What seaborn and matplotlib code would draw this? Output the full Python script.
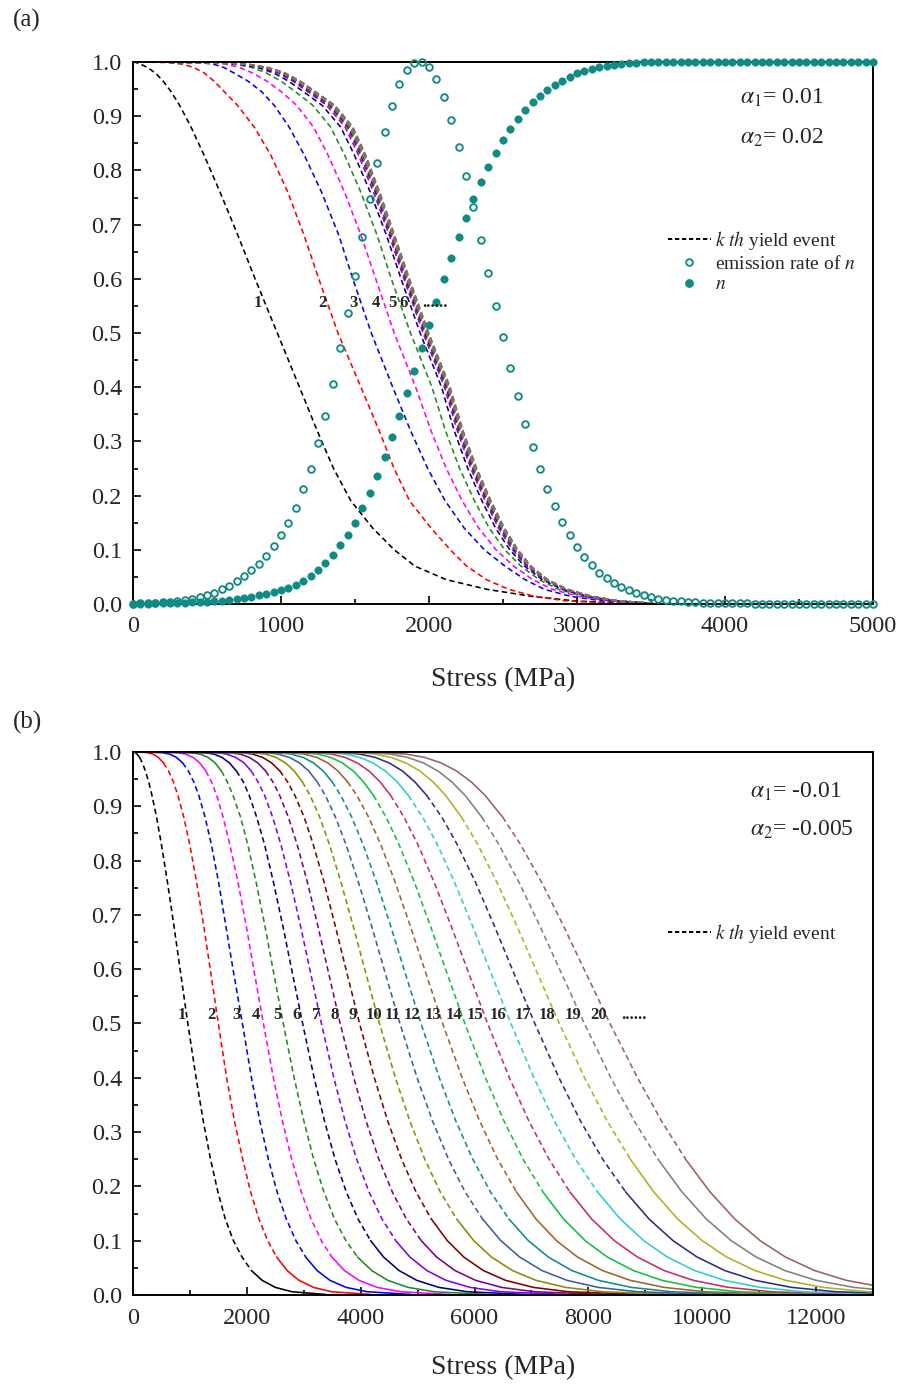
import numpy as np
import matplotlib
matplotlib.use("Agg")
import matplotlib.pyplot as plt
from matplotlib.lines import Line2D
from matplotlib.ticker import MultipleLocator, FormatStrFormatter
import seaborn as sns

sns.set_theme(style="white")
plt.rcParams["font.family"] = ["Liberation Serif", "DejaVu Serif"]
plt.rcParams["mathtext.fontset"] = "stix"

# Survival levels at which each yield-event curve is tabulated (stress in MPa)
LEVELS = [1.0, 0.999, 0.996, 0.99, 0.98, 0.965, 0.945, 0.92, 0.88, 0.83, 0.76, 0.68, 0.6,
          0.5, 0.4, 0.32, 0.25, 0.19, 0.14, 0.1, 0.07, 0.045, 0.027, 0.014, 0.006, 0.001]

# ---- panel (a): alpha1 = 0.01, alpha2 = 0.02 ----
a_k01 = [0, 21, 52, 96, 150, 203, 258, 315, 392, 477, 588, 709, 825, 975, 1125, 1244, 1355, 1473, 1620, 1765, 1904, 2116, 2393, 2697, 2975, 3294]
a_k02 = [0, 243, 333, 409, 480, 546, 618, 706, 819, 928, 1046, 1156, 1255, 1385, 1540, 1663, 1764, 1869, 2014, 2144, 2254, 2388, 2539, 2714, 2916, 3276]
a_k03 = [0, 447, 543, 613, 680, 775, 870, 954, 1055, 1154, 1274, 1391, 1485, 1610, 1755, 1875, 1991, 2110, 2238, 2374, 2513, 2649, 2780, 2959, 3163, 3490]
a_k04 = [0, 508, 628, 720, 805, 903, 1003, 1106, 1219, 1315, 1429, 1541, 1640, 1765, 1910, 2013, 2117, 2225, 2336, 2453, 2572, 2701, 2835, 3010, 3204, 3501]
a_k05 = [0, 548, 689, 800, 900, 998, 1099, 1215, 1335, 1427, 1539, 1650, 1745, 1875, 2020, 2111, 2207, 2308, 2407, 2512, 2621, 2744, 2875, 3046, 3231, 3508]
a_k06 = [0, 571, 722, 842, 949, 1049, 1153, 1278, 1403, 1493, 1603, 1713, 1811, 1940, 2085, 2170, 2262, 2358, 2450, 2546, 2645, 2765, 2899, 3068, 3249, 3513]
a_k07 = [0, 585, 741, 866, 977, 1078, 1182, 1309, 1433, 1521, 1625, 1732, 1831, 1960, 2105, 2191, 2283, 2380, 2470, 2564, 2659, 2777, 2911, 3080, 3258, 3515]
a_k08 = [0, 591, 750, 879, 992, 1093, 1197, 1325, 1448, 1534, 1637, 1741, 1840, 1970, 2115, 2201, 2293, 2390, 2481, 2574, 2667, 2784, 2919, 3086, 3263, 3516]
a_k09 = [0, 595, 756, 886, 1000, 1101, 1206, 1334, 1457, 1543, 1644, 1747, 1846, 1976, 2121, 2207, 2300, 2397, 2488, 2580, 2671, 2787, 2922, 3089, 3265, 3517]
a_k10 = [0, 597, 760, 891, 1006, 1107, 1211, 1340, 1463, 1548, 1648, 1750, 1850, 1980, 2125, 2212, 2304, 2401, 2492, 2584, 2674, 2789, 2925, 3091, 3267, 3517]
a_k11 = [0, 600, 763, 895, 1010, 1111, 1216, 1345, 1468, 1552, 1651, 1753, 1853, 1983, 2128, 2215, 2307, 2404, 2495, 2586, 2676, 2791, 2927, 3093, 3269, 3518]
a_k12 = [0, 601, 765, 897, 1013, 1114, 1219, 1348, 1471, 1555, 1654, 1755, 1855, 1985, 2130, 2217, 2310, 2407, 2497, 2588, 2678, 2793, 2928, 3094, 3270, 3518]
a_k13 = [0, 603, 767, 899, 1015, 1116, 1221, 1351, 1474, 1558, 1656, 1757, 1857, 1987, 2132, 2218, 2311, 2408, 2498, 2589, 2679, 2794, 2929, 3095, 3270, 3518]
a_k14 = [0, 603, 768, 901, 1017, 1118, 1223, 1353, 1475, 1559, 1657, 1758, 1858, 1988, 2133, 2220, 2313, 2410, 2500, 2591, 2680, 2795, 2930, 3096, 3271, 3518]
a_k15 = [0, 603, 768, 902, 1019, 1121, 1225, 1354, 1477, 1561, 1658, 1759, 1859, 1989, 2134, 2221, 2314, 2411, 2501, 2592, 2680, 2795, 2930, 3096, 3271, 3518]
a_k16 = [0, 605, 770, 903, 1019, 1120, 1225, 1355, 1477, 1561, 1659, 1760, 1860, 1990, 2135, 2221, 2314, 2411, 2501, 2592, 2681, 2796, 2931, 3097, 3272, 3518]
a_k17 = [0, 605, 770, 904, 1021, 1123, 1228, 1358, 1480, 1564, 1661, 1762, 1862, 1992, 2137, 2224, 2317, 2414, 2504, 2595, 2683, 2797, 2932, 3098, 3272, 3519]
a_k18 = [0, 605, 771, 906, 1023, 1125, 1230, 1360, 1482, 1566, 1663, 1764, 1864, 1994, 2139, 2226, 2319, 2416, 2506, 2597, 2684, 2798, 2933, 3099, 3273, 3519]
a_k19 = [0, 606, 772, 906, 1024, 1127, 1232, 1362, 1484, 1568, 1665, 1766, 1866, 1996, 2141, 2228, 2321, 2418, 2508, 2599, 2687, 2800, 2934, 3100, 3274, 3519]
a_k20 = [0, 608, 774, 909, 1026, 1129, 1234, 1364, 1486, 1570, 1667, 1768, 1868, 1998, 2143, 2230, 2323, 2420, 2510, 2601, 2689, 2802, 2936, 3102, 3276, 3520]

# emission rate of n and n, sampled every 50 MPa from 0 to 5000
a_stress_grid = np.arange(0, 5001, 50)
a_emission = [
    0.000, 0.001, 0.001, 0.002, 0.003, 0.004, 0.006, 0.008, 0.010, 0.013,
    0.017, 0.021, 0.027, 0.034, 0.042, 0.052, 0.062, 0.074, 0.089, 0.107,
    0.127, 0.150, 0.178, 0.212, 0.250, 0.297, 0.347, 0.406, 0.472, 0.536,
    0.606, 0.678, 0.747, 0.813, 0.870, 0.919, 0.959, 0.985, 0.999, 1.000,
    0.991, 0.969, 0.936, 0.893, 0.844, 0.790, 0.732, 0.672, 0.610, 0.550,
    0.492, 0.435, 0.383, 0.333, 0.289, 0.249, 0.212, 0.181, 0.152, 0.127,
    0.106, 0.087, 0.072, 0.058, 0.048, 0.038, 0.031, 0.025, 0.020, 0.016,
    0.012, 0.010, 0.008, 0.006, 0.005, 0.004, 0.003, 0.002, 0.002, 0.001,
    0.001, 0.001, 0.001, 0.001, 0.000, 0.000, 0.000, 0.000, 0.000, 0.000,
    0.000, 0.000, 0.000, 0.000, 0.000, 0.000, 0.000, 0.000, 0.000, 0.000,
    0.000]
a_n = [
    0.000, 0.000, 0.000, 0.001, 0.001, 0.001, 0.002, 0.002, 0.003, 0.003,
    0.004, 0.005, 0.006, 0.007, 0.009, 0.011, 0.013, 0.016, 0.019, 0.022,
    0.026, 0.030, 0.035, 0.043, 0.052, 0.063, 0.075, 0.090, 0.108, 0.128,
    0.150, 0.177, 0.204, 0.236, 0.271, 0.308, 0.347, 0.389, 0.430, 0.473,
    0.515, 0.558, 0.600, 0.639, 0.677, 0.713, 0.747, 0.778, 0.806, 0.832,
    0.856, 0.876, 0.895, 0.911, 0.926, 0.938, 0.948, 0.957, 0.965, 0.973,
    0.979, 0.984, 0.988, 0.991, 0.993, 0.995, 0.997, 0.998, 0.999, 1.000,
    1.000, 1.000, 1.000, 1.000, 1.000, 1.000, 1.000, 1.000, 1.000, 1.000,
    1.000, 1.000, 1.000, 1.000, 1.000, 1.000, 1.000, 1.000, 1.000, 1.000,
    1.000, 1.000, 1.000, 1.000, 1.000, 1.000, 1.000, 1.000, 1.000, 1.000,
    1.000]

a_label_text = ["1", "2", "3", "4", "5", "6", "......"]
a_label_stress = [843, 1277, 1489, 1640, 1752, 1831, 2041]
a_label_level = 0.555

# ---- panel (b): alpha1 = -0.01, alpha2 = -0.005 ----
b_k01 = [0, 37, 73, 116, 164, 218, 275, 334, 414, 499, 606, 719, 827, 963, 1108, 1235, 1362, 1491, 1621, 1764, 1915, 2080, 2269, 2500, 2792, 3388]
b_k02 = [0, 247, 351, 446, 536, 624, 709, 790, 892, 996, 1118, 1242, 1357, 1499, 1645, 1783, 1928, 2065, 2213, 2367, 2522, 2708, 2916, 3171, 3492, 4177]
b_k03 = [0, 505, 646, 764, 871, 973, 1067, 1156, 1266, 1376, 1504, 1631, 1757, 1922, 2081, 2229, 2378, 2531, 2693, 2862, 3033, 3234, 3460, 3744, 4112, 4897]
b_k04 = [0, 765, 925, 1056, 1172, 1280, 1379, 1471, 1583, 1700, 1845, 1989, 2121, 2291, 2466, 2626, 2787, 2955, 3128, 3309, 3493, 3715, 3968, 4290, 4703, 5577]
b_k05 = [0, 1010, 1183, 1321, 1442, 1553, 1656, 1758, 1890, 2015, 2163, 2317, 2459, 2640, 2831, 3003, 3174, 3353, 3540, 3740, 3944, 4194, 4476, 4833, 5288, 6247]
b_k06 = [0, 1242, 1423, 1565, 1692, 1817, 1938, 2041, 2173, 2310, 2468, 2632, 2786, 2980, 3182, 3365, 3550, 3746, 3953, 4175, 4401, 4674, 4984, 5375, 5872, 6913]
b_k07 = [0, 1462, 1648, 1805, 1951, 2077, 2196, 2312, 2453, 2597, 2768, 2942, 3106, 3310, 3528, 3726, 3930, 4146, 4374, 4615, 4864, 5162, 5499, 5922, 6459, 7580]
b_k08 = [0, 1671, 1880, 2046, 2191, 2330, 2456, 2577, 2729, 2883, 3064, 3247, 3421, 3640, 3879, 4096, 4319, 4554, 4803, 5064, 5333, 5656, 6019, 6474, 7051, 8249]
b_k09 = [0, 1888, 2105, 2279, 2434, 2580, 2716, 2844, 3006, 3166, 3357, 3553, 3741, 3980, 4240, 4476, 4718, 4971, 5240, 5522, 5810, 6156, 6545, 7033, 7649, 8920]
b_k10 = [0, 2103, 2331, 2513, 2678, 2832, 2976, 3111, 3280, 3450, 3654, 3867, 4071, 4330, 4610, 4865, 5126, 5397, 5685, 5988, 6296, 6666, 7081, 7600, 8253, 9575]
b_k11 = [0, 2317, 2556, 2750, 2923, 3087, 3236, 3379, 3557, 3740, 3961, 4191, 4411, 4689, 4991, 5264, 5543, 5833, 6140, 6463, 6791, 7184, 7625, 8174, 8862, 10217]
b_k12 = [0, 2532, 2785, 2989, 3171, 3341, 3500, 3650, 3843, 4040, 4279, 4525, 4761, 5059, 5381, 5673, 5970, 6279, 6604, 6946, 7295, 7711, 8176, 8755, 9462, 10847]
b_k13 = [0, 2752, 3017, 3231, 3421, 3601, 3769, 3933, 4139, 4351, 4606, 4870, 5121, 5439, 5782, 6091, 6407, 6735, 7079, 7440, 7808, 8247, 8736, 9331, 10053, 11466]
b_k14 = [0, 2974, 3252, 3476, 3676, 3869, 4050, 4225, 4445, 4672, 4944, 5224, 5491, 5829, 6192, 6519, 6853, 7200, 7563, 7944, 8331, 8791, 9292, 9899, 10636, 12076]
b_k15 = [0, 3202, 3491, 3726, 3941, 4146, 4341, 4526, 4761, 5003, 5291, 5588, 5872, 6229, 6612, 6957, 7309, 7674, 8057, 8457, 8860, 9330, 9842, 10461, 11213, 12678]
b_k16 = [0, 3432, 3736, 3987, 4215, 4434, 4641, 4838, 5088, 5344, 5649, 5963, 6262, 6639, 7043, 7405, 7775, 8159, 8560, 8974, 9386, 9865, 10387, 11018, 11783, 13272]
b_k17 = [0, 3667, 3989, 4256, 4499, 4733, 4951, 5160, 5425, 5694, 6017, 6347, 6662, 7059, 7483, 7863, 8251, 8653, 9065, 9488, 9908, 10397, 10928, 11571, 12348, 13859]
b_k18 = [0, 3909, 4252, 4536, 4794, 5041, 5271, 5492, 5771, 6055, 6394, 6742, 7073, 7489, 7933, 8332, 8737, 9148, 9569, 10000, 10428, 10925, 11466, 12119, 12908, 14440]
b_k19 = [0, 4163, 4526, 4826, 5099, 5358, 5601, 5835, 6128, 6426, 6781, 7146, 7494, 7929, 8394, 8809, 9223, 9642, 10071, 10510, 10945, 11451, 12000, 12663, 13464, 15016]
b_k20 = [0, 4425, 4809, 5125, 5412, 5685, 5942, 6186, 6494, 6806, 7179, 7561, 7924, 8379, 8863, 9287, 9708, 10135, 10571, 11018, 11460, 11974, 12531, 13204, 14015, 15587]

b_label_text = [str(i) for i in range(1, 21)] + ["......"]
b_label_stress = [857, 1385, 1813, 2165, 2530, 2882, 3217, 3539, 3868, 4231, 4554,
                  4907, 5277, 5639, 6004, 6414, 6843, 7271, 7724, 8181, 8803]
b_label_level = 0.516

# Colour of the k-th yield-event curve (same order in both panels)
CURVE_COLORS = ["#000000", "#ff0000", "#0000ff", "#ff00ff", "#1f8a1f", "#000080",
                "#8000ff", "#800080", "#800000", "#8c8c00", "#3a5f9f", "#108a8a",
                "#a0622d", "#10c040", "#cc2a66", "#30cccc", "#2b2b8f", "#b0b020",
                "#808080", "#9a6060"]
TEAL = "#0f8a84"
DASH = (0, (3.4, 2.2))

a_curves = [a_k01, a_k02, a_k03, a_k04, a_k05, a_k06, a_k07, a_k08, a_k09, a_k10,
            a_k11, a_k12, a_k13, a_k14, a_k15, a_k16, a_k17, a_k18, a_k19, a_k20]
b_curves = [b_k01, b_k02, b_k03, b_k04, b_k05, b_k06, b_k07, b_k08, b_k09, b_k10,
            b_k11, b_k12, b_k13, b_k14, b_k15, b_k16, b_k17, b_k18, b_k19, b_k20]

W, H = 906, 1389
fig = plt.figure(figsize=(W / 100, H / 100), dpi=100)
fig.patch.set_facecolor("white")


def box(left, top, right, bottom):
    return [left / W, 1 - bottom / H, (right - left) / W, (bottom - top) / H]


ax1 = fig.add_axes(box(133, 62, 873, 604))
ax2 = fig.add_axes(box(133, 752, 873, 1295))


def style_axes(ax, xmax, xmajor, xminor):
    ax.set_xlim(0, xmax)
    ax.set_ylim(0, 1.0)
    ax.set_facecolor("white")
    ax.xaxis.set_major_locator(MultipleLocator(xmajor))
    ax.xaxis.set_minor_locator(MultipleLocator(xminor))
    ax.yaxis.set_major_locator(MultipleLocator(0.1))
    ax.yaxis.set_minor_locator(MultipleLocator(0.05))
    ax.yaxis.set_major_formatter(FormatStrFormatter("%.1f"))
    ax.tick_params(which="both", direction="in", top=False, right=False,
                   bottom=True, left=True, width=1.2, color="black")
    ax.tick_params(which="major", length=6, labelsize=17.5, pad=8)
    ax.tick_params(which="minor", length=3.5)
    ax.tick_params(axis="x", which="major", pad=9)
    for s in ax.spines.values():
        s.set_visible(True)
        s.set_color("black")
        s.set_linewidth(1.4)
    ax.set_xlabel("")
    ax.set_ylabel("")
    ax.grid(False)


# panel (a): all yield-event curves dashed
for xs, col in zip(a_curves, CURVE_COLORS):
    sns.lineplot(x=xs, y=LEVELS, sort=False, estimator=None, color=col,
                 lw=1.15, linestyle=DASH, ax=ax1)

sns.lineplot(x=a_stress_grid, y=a_emission, sort=False, estimator=None,
             marker="o", linestyle="none", markersize=4.8, markerfacecolor="none",
             markeredgecolor=TEAL, markeredgewidth=1.35, clip_on=False, zorder=6, ax=ax1)
sns.lineplot(x=a_stress_grid, y=a_n, sort=False, estimator=None,
             marker="o", linestyle="none", markersize=5.3, markerfacecolor=TEAL,
             markeredgecolor=TEAL, markeredgewidth=0.5, clip_on=False, zorder=6, ax=ax1)

for t, xv in zip(a_label_text, a_label_stress):
    ax1.text(xv, a_label_level, t, ha="center", va="center", fontsize=12,
             fontweight="bold", zorder=7)

# panel (b): flat stretches solid, steep stretches dashed
PX_X_B = 740 / 13000
PX_Y_B = 543


def draw_curve(ax, xs, ys, color, thr=1.4):
    xs = np.asarray(xs, float)
    ys = np.asarray(ys, float)
    slope = np.abs(np.diff(ys) * PX_Y_B) / np.maximum(np.abs(np.diff(xs)) * PX_X_B, 1e-9)
    steep = slope > thr
    start = 0
    for i in range(1, len(steep) + 1):
        if i == len(steep) or steep[i] != steep[start]:
            seg = slice(start, i + 1)
            ls = DASH if steep[start] else "-"
            sns.lineplot(x=xs[seg], y=ys[seg], sort=False, estimator=None,
                         color=color, lw=1.15, linestyle=ls, ax=ax)
            start = i


for xs, col in zip(b_curves, CURVE_COLORS):
    draw_curve(ax2, xs, LEVELS, col)

for t, xv in zip(b_label_text, b_label_stress):
    ax2.text(xv, b_label_level, t, ha="center", va="center", fontsize=12,
             fontweight="bold", zorder=7)

style_axes(ax1, 5000, 1000, 500)
style_axes(ax2, 13000, 2000, 1000)

# legends
h_yield = Line2D([0], [0], color="black", lw=1.4, linestyle=(0, (2.2, 1.4)))
h_emis = Line2D([0], [0], marker="o", linestyle="none", markersize=4.8,
                markerfacecolor="none", markeredgecolor=TEAL, markeredgewidth=1.35)
h_n = Line2D([0], [0], marker="o", linestyle="none", markersize=5.3,
             markerfacecolor=TEAL, markeredgecolor=TEAL)
lab_yield = r"$k\ th$ yield event"
ax1.legend([h_yield, h_emis, h_n], [lab_yield, r"emission rate of $n$", r"$n$"],
           loc="upper left", bbox_to_anchor=((668 - 133) / 740, (604 - 229) / 542),
           frameon=False, fontsize=14, handlelength=2.2, handletextpad=0.2,
           labelspacing=0.15, borderaxespad=0, borderpad=0)
ax2.legend([h_yield], [lab_yield],
           loc="upper left", bbox_to_anchor=((668 - 133) / 740, (1295 - 922) / 543),
           frameon=False, fontsize=14, handlelength=2.2, handletextpad=0.2,
           borderaxespad=0, borderpad=0)

# parameter annotations
ax1.text((740 - 133) / 740, (604 - 98) / 542, r"$\alpha_{\mathit{1}}$= 0.01",
         transform=ax1.transAxes, fontsize=17, va="center", ha="left")
ax1.text((740 - 133) / 740, (604 - 138) / 542, r"$\alpha_{\mathit{2}}$= 0.02",
         transform=ax1.transAxes, fontsize=17, va="center", ha="left")
ax2.text((750 - 133) / 740, (1295 - 792) / 543, r"$\alpha_{\mathit{1}}$= -0.01",
         transform=ax2.transAxes, fontsize=17, va="center", ha="left")
ax2.text((750 - 133) / 740, (1295 - 830) / 543, r"$\alpha_{\mathit{2}}$= -0.005",
         transform=ax2.transAxes, fontsize=17, va="center", ha="left")

# axis titles and panel tags
fig.text(503 / W, 1 - 680 / H, "Stress (MPa)", ha="center", va="center", fontsize=20)
fig.text(503 / W, 1 - 1368 / H, "Stress (MPa)", ha="center", va="center", fontsize=20)
fig.text(27 / W, 1 - 20 / H, "(a)", ha="center", va="center", fontsize=18)
fig.text(27 / W, 1 - 722 / H, "(b)", ha="center", va="center", fontsize=18)

fig.savefig("out.png", dpi=100, facecolor="white")
